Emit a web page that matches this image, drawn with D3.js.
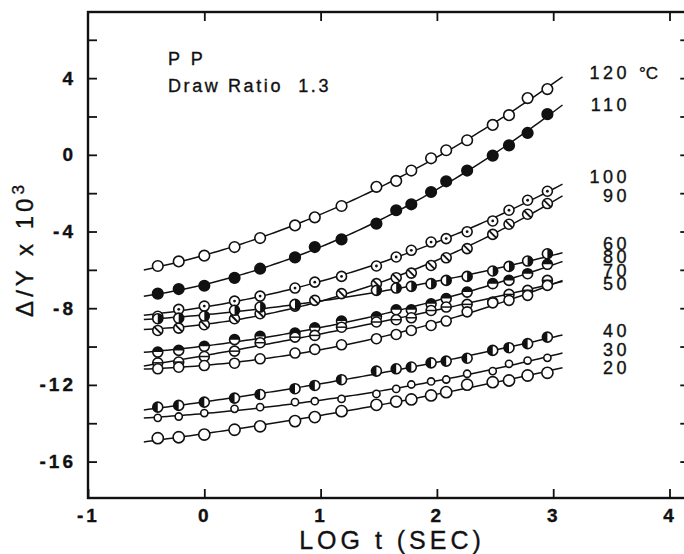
<!DOCTYPE html>
<html>
<head>
<meta charset="utf-8">
<script src="https://cdn.jsdelivr.net/npm/d3@7"></script>
<style>
body{margin:0;background:#fff;}
svg text{font-family:"Liberation Sans",Arial,sans-serif;fill:#111;stroke:#111;stroke-width:0.35px;}
</style>
</head>
<body>
<script>
//wrap everything in a self-executing function
(function(){

//log t (sec) of the readings: 0.4, 0.6, 1, 1.8, 3, 6, 9, 15, 30, 45, 60, 90, 120, 180, 300, 420, 600, 900 s
var logT = [-0.4,-0.22,0,0.26,0.48,0.78,0.95,1.18,1.48,1.65,1.78,1.95,2.08,2.26,2.48,2.62,2.78,2.95];

//temperature labels, top to bottom at the right edge
var temps = ["120","110","100","90","60","80","70","50","40","30","20"];

//delta/Y x 10^3 for each temperature (null = no reading)
var s120 = [-5.80,-5.56,-5.26,-4.81,-4.34,-3.68,-3.26,-2.67,-1.67,-1.36,-0.82,-0.18,0.24,0.76,1.56,2.07,2.96,3.43];
var s110 = [-7.24,-7.00,-6.83,-6.42,-5.94,-5.35,-4.81,-4.41,-3.59,-2.89,-2.58,-1.94,-1.38,-0.82,-0.04,0.49,1.14,2.12];
var s100 = [-8.42,-8.06,-7.89,-7.63,-7.37,-6.95,-6.64,-6.34,-5.80,-5.33,-4.98,-4.55,-4.37,-4.01,-3.45,-2.89,-2.37,-1.90];
var s90  = [-9.16,-9.04,-8.86,-8.55,-8.29,-7.89,-7.59,-7.24,-6.72,-6.41,-6.17,-5.77,-5.37,-4.89,-4.15,-3.62,-3.10,-2.54];
var s60  = [-8.55,-8.52,-8.41,-8.11,-7.94,-7.80,null,null,-7.07,-6.95,-6.86,-6.72,-6.55,-6.34,-6.06,-5.82,-5.54,-5.16];
var s80  = [-10.29,-10.20,-9.99,-9.64,-9.47,-9.30,-9.02,-8.67,-8.45,-8.08,-8.08,-7.77,-7.50,-7.16,-6.72,-6.55,-6.20,-5.71];
var s70  = [-10.85,-10.81,-10.52,-10.24,-9.80,-9.51,-9.42,-8.99,-8.72,-8.60,-8.50,-8.12,-7.94,-7.80,-7.68,-7.28,-7.07,-6.55];
var s50  = [-11.16,-11.08,-10.99,-10.87,-10.64,-10.34,-10.15,-9.91,-9.59,-9.37,-9.16,-8.90,-8.67,-8.19,-7.72,-7.59,-7.33,-6.81];
var s40  = [-13.16,-13.07,-12.90,-12.69,-12.50,-12.20,-12.03,-11.73,-11.28,-11.16,-11.07,-10.85,-10.76,-10.61,-10.20,-10.06,-9.85,-9.51];
var s30  = [-13.72,-13.65,-13.47,-13.25,-13.16,-12.90,-12.85,-12.73,-12.47,-12.21,-11.98,-11.82,-11.72,-11.42,-11.28,-10.90,-10.73,-10.59];
var s20  = [-14.78,-14.73,-14.59,-14.34,-14.16,-13.89,-13.68,-13.37,-13.04,-12.87,-12.76,-12.55,-12.38,-11.99,-11.86,-11.77,-11.51,-11.37];

//axis ticks
var xTicks = [-1,0,1,2,3,4];
var yTicks = [-16,-14,-12,-10,-8,-6,-4,-2,0,2,4,6];

window.onload = drawChart();

function drawChart(){
    var width = 684,
        height = 554;

    var svg = d3.select("body")
        .append("svg")
        .attr("width", width)
        .attr("height", height);

    //scales (right frame edge sits just outside the picture)
    var x = d3.scaleLinear().domain([-1, 4]).range([88, 669.5]);
    var y = d3.scaleLinear().domain([-17.9, 7.45]).range([498, 12]);
    var xRight = 4.17;

    //one entry per curve: values + marker style
    var series = [
        {t:"120", v:s120, m:"open",  r:5.3},
        {t:"110", v:s110, m:"fill",  r:5.3},
        {t:"100", v:s100, m:"dot",   r:5},
        {t:"90",  v:s90,  m:"slash", r:5},
        {t:"60",  v:s60,  m:"halfR", r:5},
        {t:"80",  v:s80,  m:"halfT", r:5},
        {t:"70",  v:s70,  m:"bar",   r:5},
        {t:"50",  v:s50,  m:"open",  r:5},
        {t:"40",  v:s40,  m:"halfL", r:5},
        {t:"30",  v:s30,  m:"open",  r:3.6},
        {t:"20",  v:s20,  m:"open",  r:5.6}
    ];

    //frame
    svg.append("rect")
        .attr("x", x(-1)).attr("y", y(7.45))
        .attr("width", x(xRight) - x(-1))
        .attr("height", y(-17.9) - y(7.45))
        .attr("fill", "none")
        .attr("stroke", "#111")
        .attr("stroke-width", 2.4);

    //left axis, ticks pointing inside, labels every 4
    var yAxis = d3.axisLeft(y)
        .tickValues(yTicks)
        .tickSizeInner(-9).tickSizeOuter(0)
        .tickPadding(12)
        .tickFormat(function(d){ return d % 4 === 0 ? d : ""; });
    var gy = svg.append("g").attr("transform", "translate(" + x(-1) + ",0)").call(yAxis);
    styleAxis(gy);

    //right ticks
    var gr = svg.append("g").attr("transform", "translate(" + x(xRight) + ",0)")
        .call(d3.axisRight(y).tickValues(yTicks).tickSizeInner(-9).tickSizeOuter(0).tickFormat(""));
    styleAxis(gr);

    //bottom axis
    var xAxis = d3.axisBottom(x)
        .tickValues(xTicks)
        .tickSizeInner(-9).tickSizeOuter(0)
        .tickPadding(11)
        .tickFormat(function(d){ return d; });
    var gx = svg.append("g").attr("transform", "translate(0," + y(-17.9) + ")").call(xAxis);
    styleAxis(gx);

    //top ticks
    var gt = svg.append("g").attr("transform", "translate(0," + y(7.45) + ")")
        .call(d3.axisTop(x).tickValues(xTicks.slice(1)).tickSizeInner(-9).tickSizeOuter(0).tickFormat(""));
    styleAxis(gt);

    //fitted curves (quadratic least squares of each series)
    var line = d3.line()
        .x(function(d){ return x(d[0]); })
        .y(function(d){ return y(d[1]); });
    var fitRange = d3.range(-0.52, 3.1001, 0.04);

    series.forEach(function(s){
        var c = quadFit(logT, s.v);
        svg.append("path")
            .datum(fitRange.map(function(t){ return [t, c[0] + c[1]*t + c[2]*t*t]; }))
            .attr("d", line)
            .attr("fill", "none")
            .attr("stroke", "#111")
            .attr("stroke-width", 1.5);
    });

    //markers
    var half = d3.arc().innerRadius(0);
    series.forEach(function(s){
        var pts = logT.map(function(t, i){ return [t, s.v[i]]; })
            .filter(function(d){ return d[1] !== null; });
        var g = svg.selectAll(".m" + s.t)
            .data(pts)
            .enter()
            .append("g")
            .attr("class", "m" + s.t)
            .attr("transform", function(d){ return "translate(" + x(d[0]) + "," + y(d[1]) + ")"; });

        g.append("circle")
            .attr("r", s.r)
            .attr("fill", s.m === "fill" ? "#111" : "#fff")
            .attr("stroke", "#111")
            .attr("stroke-width", 1.6);

        var k = s.r * 0.7;
        if (s.m === "dot"){
            g.append("circle").attr("r", 1.4).attr("fill", "#111");
        } else if (s.m === "slash"){
            g.append("line").attr("x1", -k).attr("y1", -k).attr("x2", k).attr("y2", k)
                .attr("stroke", "#111").attr("stroke-width", 1.8);
        } else if (s.m === "bar"){
            g.append("line").attr("x1", -s.r).attr("x2", s.r)
                .attr("stroke", "#111").attr("stroke-width", 1.5);
        } else if (s.m === "halfR" || s.m === "halfL" || s.m === "halfT"){
            var a0 = s.m === "halfR" ? 0 : (s.m === "halfL" ? Math.PI : -Math.PI/2);
            g.append("path")
                .attr("d", half.outerRadius(s.r).startAngle(a0).endAngle(a0 + Math.PI)())
                .attr("fill", "#111");
        }
    });

    //temperature labels at the right (the middle four are packed tight, as in the original)
    var labelBase = {"120":79, "110":111, "100":183, "90":202, "60":250, "80":263,
                     "70":277, "50":290, "40":337, "30":356, "20":374};
    svg.selectAll(".tlab")
        .data(temps)
        .enter()
        .append("text")
        .attr("class", "tlab")
        .attr("x", 630)
        .attr("y", function(d){ return labelBase[d]; })
        .attr("text-anchor", "end")
        .style("font-size", "18px")
        .style("letter-spacing", "3.5px")
        .text(function(d){ return d; });
    svg.append("text").attr("x", 639).attr("y", 79)
        .style("font-size", "17px").text("\u00b0C");

    //sample annotation
    svg.append("text").attr("x", 168).attr("y", 65)
        .style("font-size", "18px").style("letter-spacing", "3px").text("P P");
    svg.append("text").attr("x", 168).attr("y", 92)
        .style("font-size", "18px").style("letter-spacing", "2.6px")
        .attr("xml:space", "preserve").text("Draw Ratio  1.3");

    //axis titles
    svg.append("text")
        .attr("x", 392).attr("y", 549)
        .attr("text-anchor", "middle")
        .style("font-size", "25px")
        .style("letter-spacing", "4px")
        .text("LOG t (SEC)");

    var yt = svg.append("text")
        .attr("transform", "translate(33,249) rotate(-90)")
        .attr("text-anchor", "middle")
        .style("font-size", "24px")
        .style("letter-spacing", "4px");
    yt.append("tspan").text("\u0394/Y x 10");
    yt.append("tspan").attr("dy", -9).style("font-size", "17px").text("3");
};

//thicken lines and set fonts on an axis group
function styleAxis(g){
    g.select(".domain").remove();
    g.selectAll(".tick line").attr("stroke", "#111").attr("stroke-width", 1.8);
    g.selectAll(".tick text")
        .style("font-size", "19px")
        .style("font-weight", "bold")
        .style("letter-spacing", "3px")
        .style("font-family", "Liberation Sans, Arial, sans-serif")
        .attr("fill", "#111");
};

//least squares parabola through the readings of one series
function quadFit(xs, ys){
    var S = [0,0,0,0,0], T = [0,0,0];
    xs.forEach(function(t, i){
        if (ys[i] === null) return;
        for (var p=0; p<5; p++) S[p] += Math.pow(t, p);
        for (var q=0; q<3; q++) T[q] += ys[i] * Math.pow(t, q);
    });
    var A = [[S[0],S[1],S[2],T[0]],[S[1],S[2],S[3],T[1]],[S[2],S[3],S[4],T[2]]];
    //gaussian elimination
    for (var i=0; i<3; i++){
        for (var j=i+1; j<3; j++){
            var f = A[j][i] / A[i][i];
            for (var k=i; k<4; k++) A[j][k] -= f * A[i][k];
        }
    }
    var c = [0,0,0];
    for (var r=2; r>=0; r--){
        var s = A[r][3];
        for (var m=r+1; m<3; m++) s -= A[r][m] * c[m];
        c[r] = s / A[r][r];
    }
    return c;
};

})();
</script>
</body>
</html>
